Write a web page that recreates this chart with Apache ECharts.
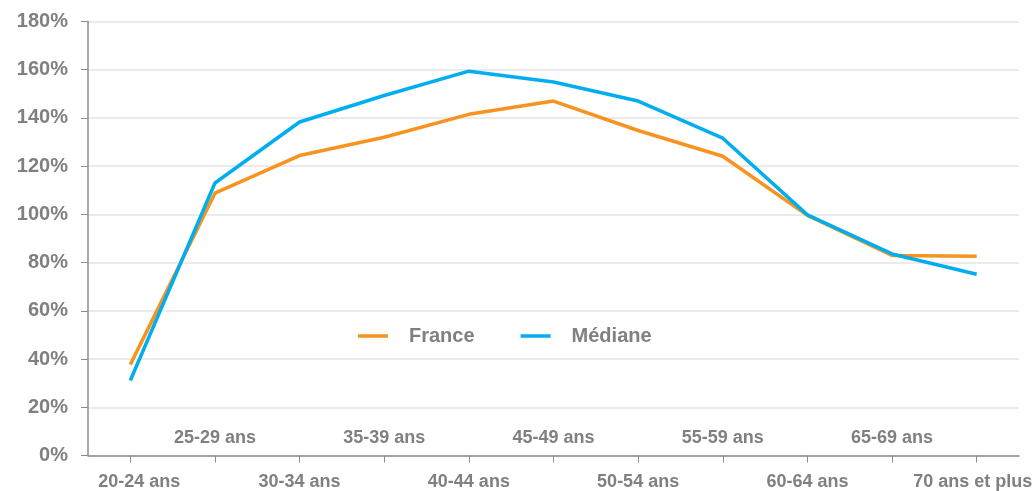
<!DOCTYPE html>
<html>
<head>
<meta charset="utf-8">
<script src="https://cdn.jsdelivr.net/npm/echarts@6/dist/echarts.min.js"></script>
<style>html,body{margin:0;padding:0;background:#fff;overflow:hidden}#c{width:1035px;height:491px}</style>
</head>
<body>
<div id="c"></div>
<script>
const categories = ['20-24 ans','25-29 ans','30-34 ans','35-39 ans','40-44 ans','45-49 ans','50-54 ans','55-59 ans','60-64 ans','65-69 ans','70 ans et plus'];
const france = [37.7, 108.8, 124.4, 132, 141.5, 147, 134.8, 124.1, 99.6, 83, 82.6];
const mediane = [31.1, 113, 138.3, 149.3, 159.4, 154.9, 147, 131.6, 99.8, 83.6, 75.2];
const yTicks = [0, 20, 40, 60, 80, 100, 120, 140, 160, 180];

const grey = '#808080';
const font = '"Liberation Sans", Arial, sans-serif';
const lab = { color: grey, fontSize: 18, fontWeight: 'bold', fontFamily: font };
const chart = echarts.init(document.getElementById('c'));
chart.setOption({
  animation: false,
  backgroundColor: '#fff',
  grid: { left: 88, right: 16, top: 21.5, bottom: 35.5, containLabel: false, outerBoundsMode: 'none' },
  legend: {
    data: ['France', 'Médiane'],
    left: 353, top: 321,
    icon: 'rect', itemWidth: 30, itemHeight: 3.5, itemGap: 46,
    textStyle: { color: grey, fontSize: 20, fontWeight: 'bold', fontFamily: font, padding: [0, 0, 0, 16] }
  },
  xAxis: [{
    type: 'category', data: categories, position: 'bottom', boundaryGap: true,
    axisLine: { show: true, lineStyle: { color: '#8c8c8c', width: 1.5 } },
    axisTick: { show: true, alignWithLabel: true, interval: 0, length: 7, lineStyle: { color: '#8c8c8c', width: 1 } },
    axisLabel: { interval: 0, margin: 18, color: grey, fontSize: 18, fontWeight: 'bold', fontFamily: font,
      formatter: (v, i) => (i === 0 ? '{f|' + v + '}' : i === categories.length - 1 ? '{l|' + v + '}' : i % 2 === 0 ? v : ''),
      rich: { f: Object.assign({ padding: [0, 0, 0, 18] }, lab), l: Object.assign({ padding: [0, 8, 0, 0] }, lab) } },
    splitLine: { show: false }
  }, {
    type: 'category', data: categories, position: 'bottom', boundaryGap: true,
    axisLine: { show: false }, axisTick: { show: false }, splitLine: { show: false },
    axisLabel: { inside: true, interval: 0, margin: 8, color: grey, fontSize: 18, fontWeight: 'bold', fontFamily: font,
      formatter: (v, i) => (i % 2 === 1 ? v : '') }
  }],
  yAxis: {
    type: 'value', min: yTicks[0], max: yTicks[yTicks.length - 1], interval: 20,
    axisLine: { show: true, lineStyle: { color: '#8c8c8c', width: 1.5 } },
    axisTick: { show: true, length: 7, lineStyle: { color: '#8c8c8c' } },
    axisLabel: { margin: 20, color: grey, fontSize: 20, fontWeight: 'bold', fontFamily: font, formatter: '{value}%' },
    splitLine: { lineStyle: { color: '#e4e4e4', width: 1.5 } }
  },
  series: [{
    name: 'France', type: 'line', data: france, xAxisIndex: 0, symbol: 'none',
    lineStyle: { color: '#f7931e', width: 3.5 }, itemStyle: { color: '#f7931e' }
  }, {
    name: 'Médiane', type: 'line', data: mediane, xAxisIndex: 0, symbol: 'none',
    lineStyle: { color: '#00aeef', width: 3.5 }, itemStyle: { color: '#00aeef' }
  }]
});
</script>
</body>
</html>
